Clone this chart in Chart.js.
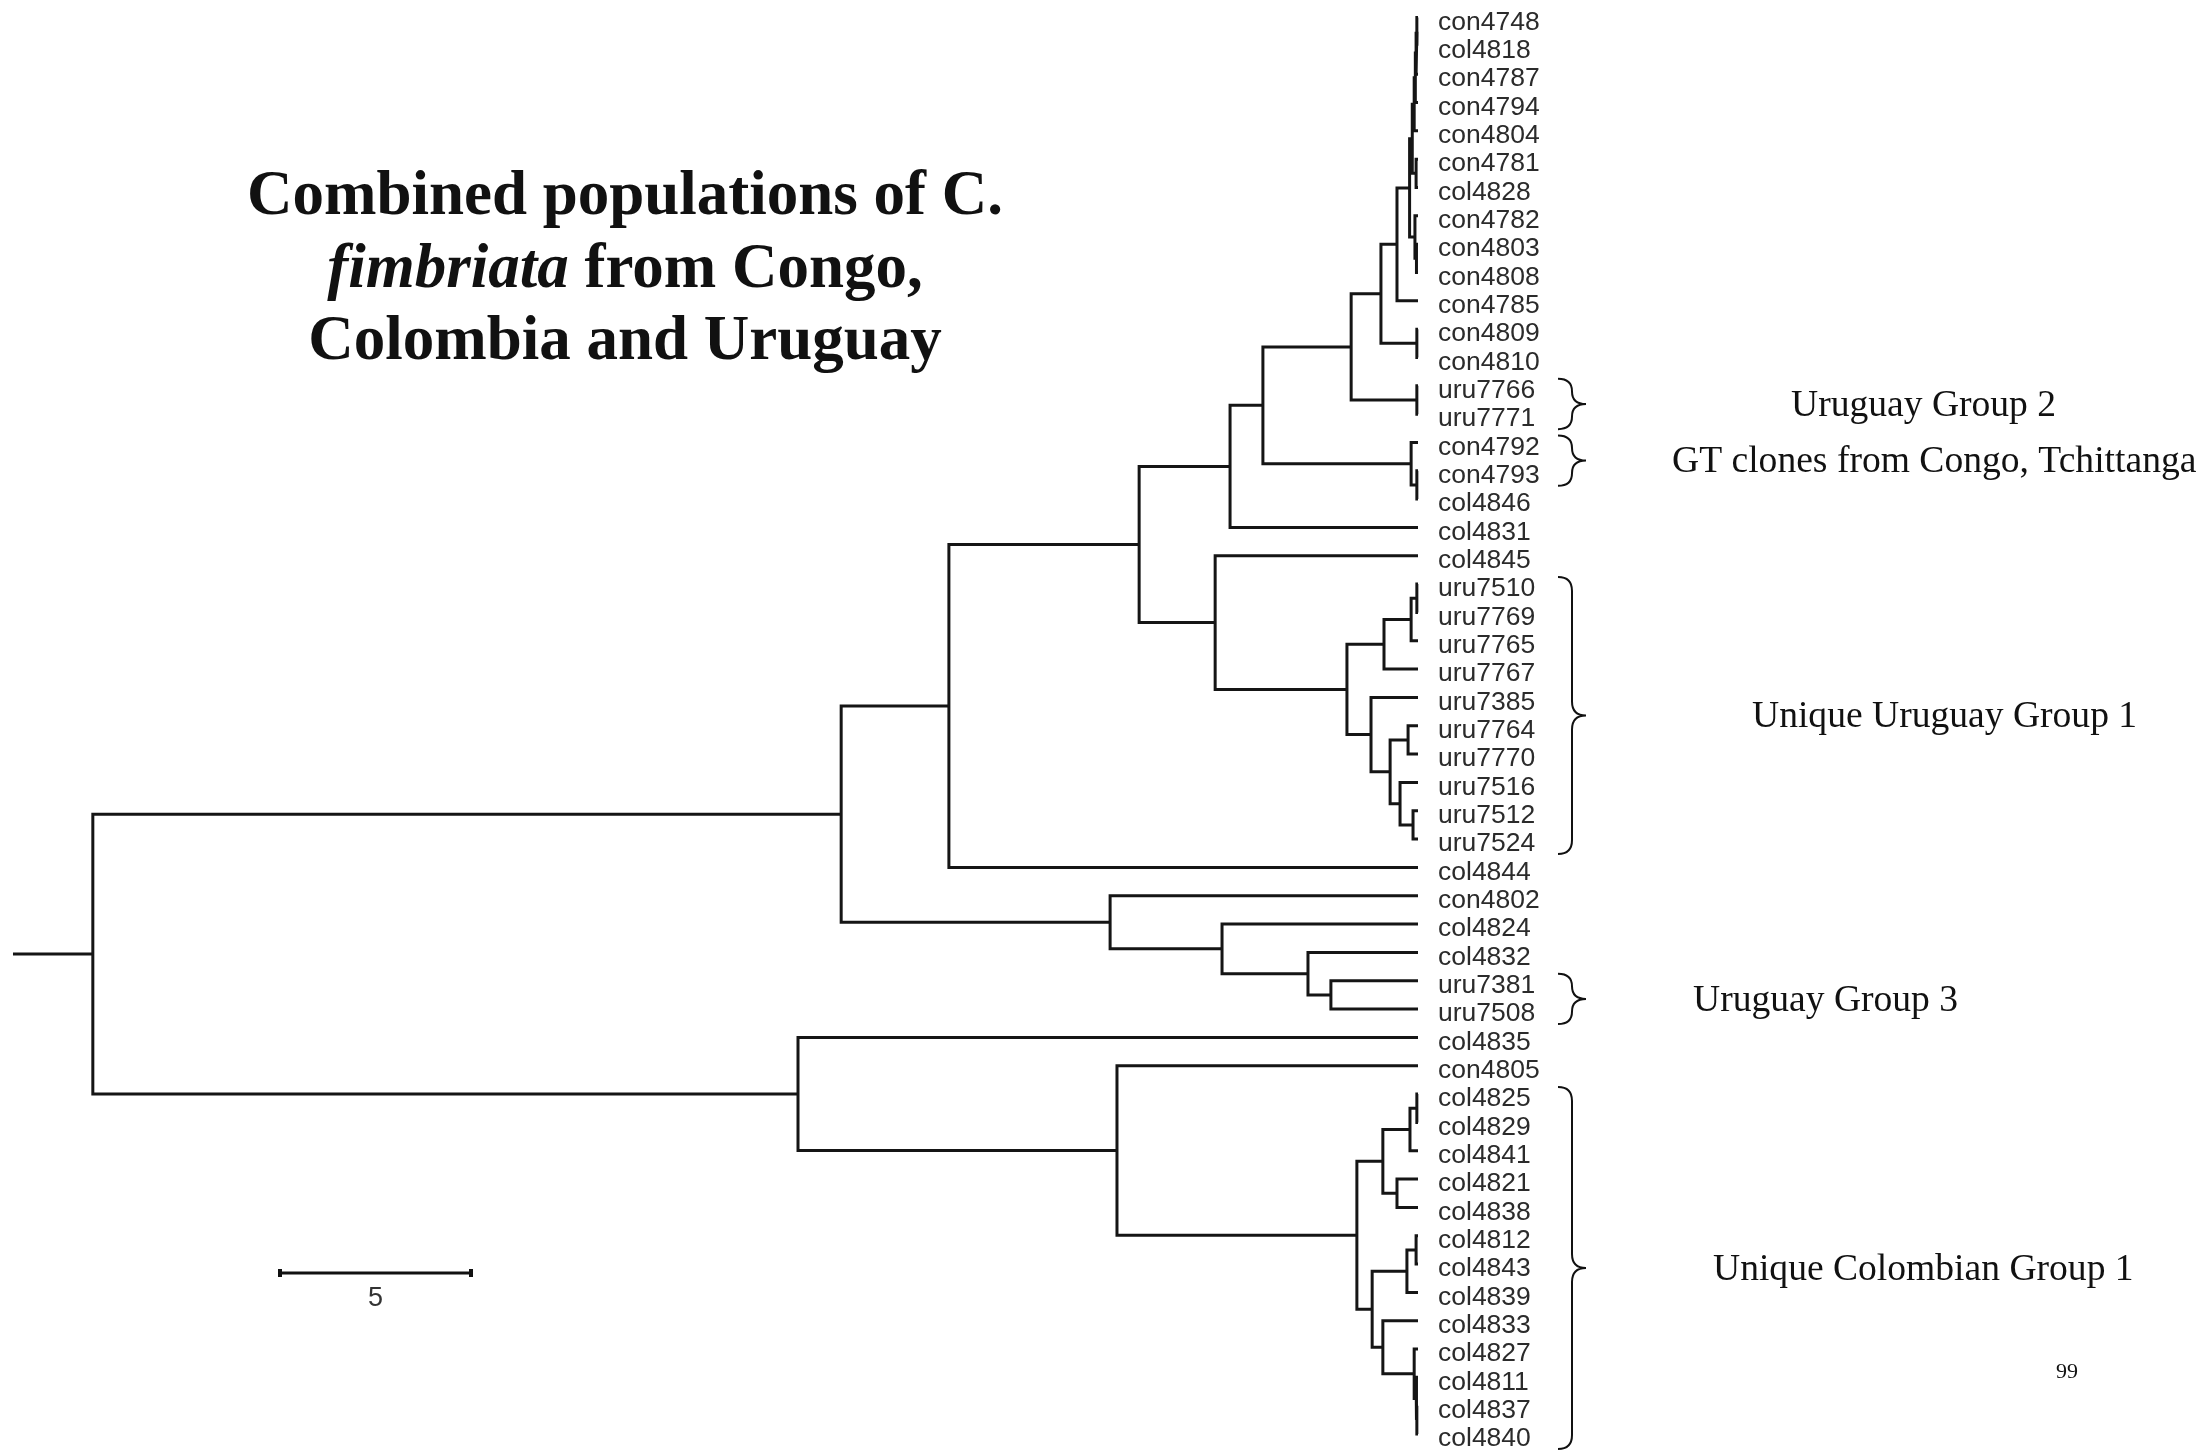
<!DOCTYPE html>
<html>
<head>
<meta charset="utf-8">
<script src="https://cdn.jsdelivr.net/npm/chart.js@4.4.0/dist/chart.umd.min.js"></script>
<style>
html, body { margin: 0; padding: 0; background: #fff; }
#wrap { width: 2198px; height: 1453px; position: relative; }
</style>
</head>
<body>
<div id="wrap"><canvas id="tree"></canvas></div>
<script>
// leaves, top to bottom
const leafNames = [
    'con4748', 'col4818', 'con4787', 'con4794', 'con4804', 'con4781', 'col4828',
    'con4782', 'con4803', 'con4808', 'con4785', 'con4809', 'con4810', 'uru7766',
    'uru7771', 'con4792', 'con4793', 'col4846', 'col4831', 'col4845', 'uru7510',
    'uru7769', 'uru7765', 'uru7767', 'uru7385', 'uru7764', 'uru7770', 'uru7516',
    'uru7512', 'uru7524', 'col4844', 'con4802', 'col4824', 'col4832', 'uru7381',
    'uru7508', 'col4835', 'con4805', 'col4825', 'col4829', 'col4841', 'col4821',
    'col4838', 'col4812', 'col4843', 'col4839', 'col4833', 'col4827', 'col4811',
    'col4837', 'col4840'
];

// [node, child a, child b, height (distance units)]
const merges = [
    ['m1', 'con4748', 'col4818', 0.03],
    ['m2', 'm1', 'con4787', 0.05],
    ['m3', 'm2', 'con4794', 0.07],
    ['m4', 'm3', 'con4804', 0.10],
    ['m5', 'con4781', 'col4828', 0.05],
    ['m6', 'm4', 'm5', 0.15],
    ['m7', 'con4803', 'con4808', 0.04],
    ['m8', 'con4782', 'm7', 0.08],
    ['m9', 'm6', 'm8', 0.22],
    ['m10', 'm9', 'con4785', 0.55],
    ['m11', 'con4809', 'con4810', 0.03],
    ['m12', 'm10', 'm11', 0.97],
    ['m13', 'uru7766', 'uru7771', 0.03],
    ['m14', 'm12', 'm13', 1.75],
    ['m15', 'con4793', 'col4846', 0.03],
    ['m16', 'con4792', 'm15', 0.18],
    ['m17', 'm14', 'm16', 4.06],
    ['m18', 'm17', 'col4831', 4.92],
    ['m19', 'uru7510', 'uru7769', 0.03],
    ['m20', 'm19', 'uru7765', 0.18],
    ['m21', 'm20', 'uru7767', 0.89],
    ['m22', 'uru7764', 'uru7770', 0.26],
    ['m23', 'uru7512', 'uru7524', 0.13],
    ['m24', 'uru7516', 'm23', 0.47],
    ['m25', 'm22', 'm24', 0.73],
    ['m26', 'uru7385', 'm25', 1.23],
    ['m27', 'm21', 'm26', 1.86],
    ['m28', 'col4845', 'm27', 5.31],
    ['m29', 'm18', 'm28', 7.30],
    ['m30', 'm29', 'col4844', 12.28],
    ['m31', 'uru7381', 'uru7508', 2.28],
    ['m32', 'col4832', 'm31', 2.88],
    ['m33', 'col4824', 'm32', 5.13],
    ['m34', 'con4802', 'm33', 8.06],
    ['m35', 'm30', 'm34', 15.10],
    ['m36', 'col4825', 'col4829', 0.03],
    ['m37', 'm36', 'col4841', 0.21],
    ['m38', 'col4821', 'col4838', 0.55],
    ['m39', 'm37', 'm38', 0.92],
    ['m40', 'col4812', 'col4843', 0.05],
    ['m41', 'm40', 'col4839', 0.29],
    ['m42', 'col4837', 'col4840', 0.03],
    ['m43', 'col4811', 'm42', 0.05],
    ['m44', 'col4827', 'm43', 0.10],
    ['m45', 'col4833', 'm44', 0.92],
    ['m46', 'm41', 'm45', 1.20],
    ['m47', 'm39', 'm46', 1.60],
    ['m48', 'con4805', 'm47', 7.88],
    ['m49', 'col4835', 'm48', 16.23],
    ['m50', 'm35', 'm49', 34.69]
];

const rootBranch = 2.09;
const scaleBarLength = 5;

const groupNames = ['Uruguay Group 2', 'GT clones from Congo, Tchittanga', 'Unique Uruguay Group 1', 'Uruguay Group 3', 'Unique Colombian Group 1'];
const groupFirst = ['uru7766', 'con4792', 'uru7510', 'uru7381', 'col4825'];
const groupLast = ['uru7771', 'con4793', 'uru7524', 'uru7508', 'col4840'];

const pageNumber = '99';

// layout (pixels)
const groupTextX = [1791, 1672, 1752, 1693, 1713];
const braceX = 1558;
const braceW = 28;
const scaleBarLeft = 280;
const scaleBarY = 1273;
const lineColor = '#151515';

const serif = '"Liberation Serif", "Times New Roman", serif';
const sans = '"Liberation Sans", Arial, sans-serif';

// node positions: leaves on integer rows, internal nodes halfway between children
const pos = {};
leafNames.forEach((name, i) => { pos[name] = { h: 0, y: i }; });
merges.forEach(([id, a, b, h]) => {
    pos[id] = { h: h, y: (pos[a].y + pos[b].y) / 2 };
});

const rootId = merges[merges.length - 1][0];

const branchStyle = {
    borderColor: lineColor,
    backgroundColor: lineColor,
    borderWidth: 3,
    pointRadius: 0,
    tension: 0,
    fill: false,
    clip: false,
    borderJoinStyle: 'miter',
    borderCapStyle: 'butt'
};

const datasets = merges.map(([id, a, b, h]) => Object.assign({
    data: [
        { x: pos[a].h, y: pos[a].y },
        { x: h, y: pos[a].y },
        { x: h, y: pos[b].y },
        { x: pos[b].h, y: pos[b].y }
    ]
}, branchStyle));
datasets.push(Object.assign({
    data: [
        { x: pos[rootId].h, y: pos[rootId].y },
        { x: pos[rootId].h + rootBranch, y: pos[rootId].y }
    ]
}, branchStyle));

const decorations = {
    id: 'decorations',
    afterDraw(chart) {
        const ctx = chart.ctx;
        const xs = chart.scales.x;
        const ys = chart.scales.y;
        ctx.save();
        ctx.fillStyle = '#111';
        ctx.strokeStyle = '#111';

        // title
        const cx = 625;
        ctx.textBaseline = 'alphabetic';
        ctx.textAlign = 'center';
        ctx.font = 'bold 63px ' + serif;
        ctx.fillText('Combined populations of C.', cx, 214);
        const partA = 'fimbriata';
        const partB = ' from Congo,';
        ctx.font = 'italic bold 63px ' + serif;
        const wA = ctx.measureText(partA).width;
        ctx.font = 'bold 63px ' + serif;
        const wB = ctx.measureText(partB).width;
        const start = cx - (wA + wB) / 2;
        ctx.textAlign = 'left';
        ctx.font = 'italic bold 63px ' + serif;
        ctx.fillText(partA, start, 287);
        ctx.font = 'bold 63px ' + serif;
        ctx.fillText(partB, start + wA, 287);
        ctx.textAlign = 'center';
        ctx.fillText('Colombia and Uruguay', cx, 359);

        // group braces and names
        ctx.lineWidth = 2;
        groupNames.forEach((name, i) => {
            const y0 = ys.getPixelForValue(leafNames.indexOf(groupFirst[i])) - 7;
            const y1 = ys.getPixelForValue(leafNames.indexOf(groupLast[i])) + 15;
            const ym = (y0 + y1) / 2;
            const r = Math.min(braceW / 2, (y1 - y0) / 4);
            const xm = braceX + braceW / 2;
            ctx.beginPath();
            ctx.moveTo(braceX, y0);
            ctx.quadraticCurveTo(xm, y0, xm, y0 + r);
            ctx.lineTo(xm, ym - r);
            ctx.quadraticCurveTo(xm, ym, braceX + braceW, ym);
            ctx.quadraticCurveTo(xm, ym, xm, ym + r);
            ctx.lineTo(xm, y1 - r);
            ctx.quadraticCurveTo(xm, y1, braceX, y1);
            ctx.stroke();

            ctx.font = '37.6px ' + serif;
            ctx.textAlign = 'left';
            ctx.textBaseline = 'middle';
            ctx.fillText(name, groupTextX[i], ym + 2);
        });

        // scale bar
        const x0 = scaleBarLeft;
        const x1 = xs.getPixelForValue(xs.getValueForPixel(x0) - scaleBarLength);
        ctx.lineWidth = 3;
        ctx.beginPath();
        ctx.moveTo(x0, scaleBarY);
        ctx.lineTo(x1, scaleBarY);
        ctx.stroke();
        ctx.fillRect(x0 - 2, scaleBarY - 4, 4, 8);
        ctx.fillRect(x1 - 2, scaleBarY - 4, 4, 8);
        ctx.fillStyle = '#333';
        ctx.font = '27px ' + sans;
        ctx.textAlign = 'center';
        ctx.textBaseline = 'middle';
        ctx.fillText(String(scaleBarLength), (x0 + x1) / 2, scaleBarY + 26);

        // page number
        ctx.fillStyle = '#111';
        ctx.font = '22px ' + serif;
        ctx.fillText(pageNumber, 2067, 1372);

        ctx.restore();
    }
};

const config = {
    type: 'line',
    data: { datasets: datasets },
    options: {
        responsive: true,
        maintainAspectRatio: false,
        animation: false,
        events: [],
        layout: {
            padding: { left: 0, right: 0, top: 3.33, bottom: 4.8 }
        },
        plugins: {
            colors: { enabled: false },
            legend: { display: false },
            tooltip: { enabled: false }
        },
        scales: {
            x: {
                type: 'linear',
                reverse: true,
                min: 0,
                max: 37.12,
                display: false
            },
            y: {
                type: 'linear',
                position: 'right',
                reverse: true,
                min: -0.5,
                max: 50.5,
                grid: { display: false, drawTicks: false },
                border: { display: false },
                afterBuildTicks: (axis) => {
                    axis.ticks = leafNames.map((_, i) => ({ value: i }));
                },
                afterFit: (axis) => {
                    axis.width = 780;
                    axis.paddingTop = 0;
                    axis.paddingBottom = 0;
                },
                ticks: {
                    autoSkip: false,
                    padding: 20,
                    labelOffset: 5,
                    color: '#2b2b2b',
                    font: { family: sans, size: 26.5, lineHeight: 1.2 },
                    callback: (value) => leafNames[value]
                }
            }
        }
    },
    plugins: [decorations]
};

const treeChart = new Chart(document.getElementById('tree'), config);
</script>
</body>
</html>
